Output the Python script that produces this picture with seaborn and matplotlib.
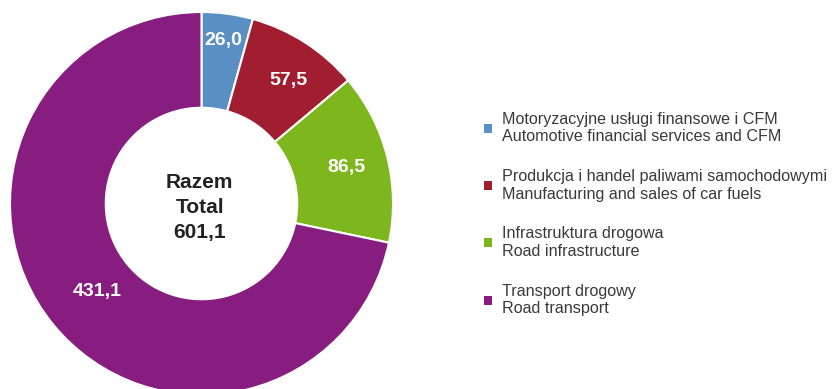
import matplotlib
matplotlib.use("Agg")
import matplotlib.pyplot as plt
import seaborn as sns
import numpy as np
from matplotlib.patches import Patch

categories_pl = ["Motoryzacyjne usługi finansowe i CFM",
                 "Produkcja i handel paliwami samochodowymi",
                 "Infrastruktura drogowa",
                 "Transport drogowy"]
categories_en = ["Automotive financial services and CFM",
                 "Manufacturing and sales of car fuels",
                 "Road infrastructure",
                 "Road transport"]
values = [26.0, 57.5, 86.5, 431.1]
value_labels = ["26,0", "57,5", "86,5", "431,1"]
total_label = "601,1"

sns.set_theme(style="white")
plt.rcParams['font.family'] = ['Liberation Sans', 'DejaVu Sans']

colors = sns.color_palette(["#5a8fc3", "#a11e31", "#7db61d", "#871e7f"])

fig = plt.figure(figsize=(8.32, 3.89), dpi=100)
W, H = 832, 389
cx, cy, R = 201.5, 203.5, 191.5
ax = fig.add_axes([(cx - R) / W, (H - cy - R) / H, 2 * R / W, 2 * R / H])

wedges, _ = ax.pie(values, colors=colors, startangle=90, counterclock=False,
                   radius=1.0,
                   wedgeprops=dict(width=0.5, edgecolor="white", linewidth=1.5))
ax.set_xlim(-1, 1)
ax.set_ylim(-1, 1)
ax.set_aspect("equal")
ax.axis("off")

label_r = [0.86, 0.79, 0.78, 0.71]
label_dang = [0.0, -2.5, 0.0, 1.0]
for w, lab, r, da in zip(wedges, value_labels, label_r, label_dang):
    ang = np.deg2rad((w.theta1 + w.theta2) / 2 + da)
    ax.text(r * np.cos(ang), r * np.sin(ang), lab, ha="center", va="center",
            color="white", fontsize=14, fontweight="bold")

ax.text(-0.01, -0.02, f"Razem\nTotal\n{total_label}", ha="center", va="center",
        color="#222222", fontsize=15, fontweight="bold", linespacing=1.38)

handles = [Patch(facecolor=c, edgecolor="none") for c in colors]
labels = [f"{p}\n{e}" for p, e in zip(categories_pl, categories_en)]
leg = fig.legend(handles, labels, loc="upper left",
                 bbox_to_anchor=(484 / W, 1 - 112 / H),
                 frameon=False, fontsize=11.6, handlelength=0.5, handleheight=0.5,
                 handletextpad=0.6, labelspacing=1.54, borderaxespad=0, borderpad=0)
for t in leg.get_texts():
    t.set_color("#3a3a3a")
    t.set_linespacing(1.2)

fig.savefig("out.png", dpi=100)
